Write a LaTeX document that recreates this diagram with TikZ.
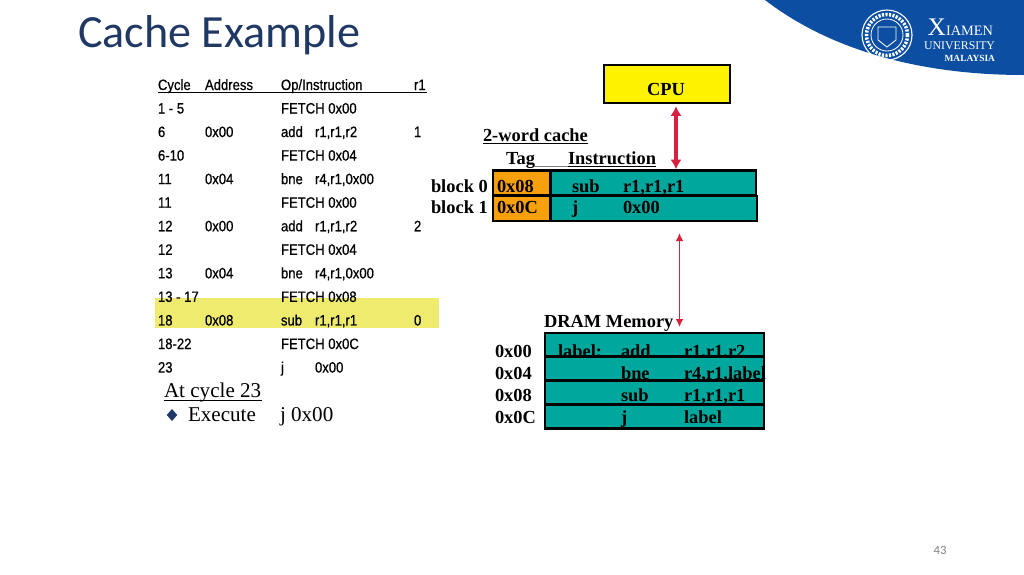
\documentclass[tikz,border=0pt]{standalone}
\usepackage{fontspec}
\usepackage{tikz}
\usetikzlibrary{shapes.geometric}
\usetikzlibrary{arrows.meta}
\setmainfont{Liberation Serif}
\newfontfamily\titlefont{Carlito}
\newfontfamily\tablefont[FakeStretch=0.87,FakeBold=0.6]{Liberation Sans}

\definecolor{titleblue}{HTML}{1F3864}
\definecolor{logoblue}{HTML}{0B4EA2}
\definecolor{cachegreen}{HTML}{00A79D}
\definecolor{tagorange}{HTML}{F7A00C}
\definecolor{arrowred}{HTML}{D9213F}
\definecolor{markyellow}{HTML}{EEEB6E}

\begin{document}
\begin{tikzpicture}[
                x=0.025cm,
                y=-0.025cm,
                every node/.style={inner sep=0pt, outer sep=0pt},
                tabletext/.style={anchor=base west, font=\tablefont\fontsize{10.7}{12}\selectfont},
                boldtext/.style={anchor=base west, font=\bfseries\fontsize{13.1}{15}\selectfont},
                notetext/.style={anchor=base west, font=\fontsize{15}{17}\selectfont},
                logotext/.style={anchor=base east, text=white},
                cpubox/.style={draw, line width=1.8pt, fill=yellow, minimum width=3.15cm, minimum height=0.95cm},
                tagbox/.style={draw, line width=1.8pt, fill=tagorange, minimum width=1.425cm, minimum height=0.63cm},
                instbox/.style={draw, line width=1.8pt, fill=cachegreen, minimum width=5.125cm, minimum height=0.63cm},
                membox/.style={draw, line width=1.8pt, fill=cachegreen, minimum width=5.475cm, minimum height=0.6cm}
            ]
            \useasboundingbox (0,0) rectangle (1024,574);

            % Logo corner
            \fill[logoblue] (765,0) .. controls (830,50) and (920,75) .. (1024,75) -- (1024,0) -- cycle;
            \draw[white, line width=0.8pt] (887,35) circle (25);
            \draw[white, line width=2.5pt, dash pattern=on 1.5pt off 1pt] (887,35) circle (20.5);
            \draw[white, line width=0.6pt] (887,35) circle (16);
            \draw[white, line width=0.6pt] (878,27) -- (896,27) -- (896,40) -- (887,47) -- (878,40) -- cycle;
            \node[logotext, font=\fontsize{10.2}{12}\selectfont] (logoa) at (993,35) {{\fontsize{18}{18}\selectfont X}IAMEN};
            \node[logotext, font=\fontsize{8.4}{10}\selectfont] (logob) at (995,49.5) {UNIVERSITY};
            \node[logotext, font=\bfseries\fontsize{6.7}{9}\selectfont] (logoc) at (995,61) {MALAYSIA};

            % Title and page number
            \node[anchor=base west, text=titleblue, font=\titlefont\fontsize{32.8}{36}\selectfont] (title) at (78,47) {Cache Example};
            \node[anchor=base, text=gray, font=\titlefont\fontsize{9}{11}\selectfont] (page) at (940,554) {43};

            % Highlighted row
            \node[fill=markyellow, minimum width=7.1cm, minimum height=0.75cm] (mark) at (297,313) {};

            % Trace table
            \node[tabletext] (hcycle) at (158,90) {Cycle};
            \node[tabletext] (haddr) at (205,90) {Address};
            \node[tabletext] (hop) at (281,90) {Op/Instruction};
            \node[tabletext] (hreg) at (414,90) {r1};
            \draw[line width=0.7pt] (158,92.5) -- (427,92.5);

            \foreach \cyc/\addr/\op/\args/\reg [count=\i] in {
                    1 - 5//FETCH 0x00//,
                    6/0x00/add/{r1,r1,r2}/1,
                    6-10//FETCH 0x04//,
                    11/0x04/bne/{r4,r1,0x00}/,
                    11//FETCH 0x00//,
                    12/0x00/add/{r1,r1,r2}/2,
                    12//FETCH 0x04//,
                    13/0x04/bne/{r4,r1,0x00}/,
                    13 - 17//FETCH 0x08//,
                    18/0x08/sub/{r1,r1,r1}/0,
                    18-22//FETCH 0x0C//,
                    23//j/0x00/
                } {
                    \pgfmathsetmacro{\rowy}{113.5+(\i-1)*23.55}
                    \node[tabletext] (cyc\i) at (158,\rowy) {\cyc};
                    \node[tabletext] (addr\i) at (205,\rowy) {\addr};
                    \node[tabletext] (op\i) at (281,\rowy) {\op};
                    \node[tabletext] (args\i) at (315,\rowy) {\args};
                    \node[tabletext] (reg\i) at (414,\rowy) {\reg};
                }

            % Note under the table
            \node[notetext] (note) at (164,397) {At cycle 23};
            \draw[line width=1.3pt] (164,400.5) -- (262,400.5);
            \node[diamond, fill=titleblue, minimum width=0.26cm, minimum height=0.3cm] (bullet) at (172,415) {};
            \node[notetext] (exec) at (188,421) {Execute};
            \node[notetext] (jump) at (280,421) {j 0x00};

            % CPU
            \node[cpubox] (cpu) at (667,84) {};
            \node[boldtext, anchor=base] (cputext) at (666,95) {CPU};

            % Cache
            \node[boldtext] (cachetitle) at (483,141) {\underline{2-word cache}};
            \node[boldtext] (taghead) at (506,164) {\underline{Tag}};
            \node[boldtext] (insthead) at (568,164) {\underline{Instruction}};
            \draw[gray, line width=0.4pt] (534,166.5) -- (568,166.5);

            \node[instbox] (inst0) at (653.5,183) {};
            \node[instbox, minimum width=5.15cm] (inst1) at (654,208.5) {};
            \node[tagbox] (tag0) at (521.5,183) {};
            \node[tagbox] (tag1) at (521.5,208.5) {};

            \node[boldtext] (block0) at (431,192) {block 0};
            \node[boldtext] (block1) at (431,213) {block 1};
            \node[boldtext] (tagval0) at (497,192) {0x08};
            \node[boldtext] (tagval1) at (497,213) {0x0C};
            \node[boldtext] (cop0) at (572,192) {sub};
            \node[boldtext] (carg0) at (623,192) {r1,r1,r1};
            \node[boldtext] (cop1) at (572,213) {j};
            \node[boldtext] (carg1) at (623,213) {0x00};

            % Memory
            \node[boldtext] (memtitle) at (544,327) {\underline{DRAM Memory}};
            \foreach \adr/\lbl/\op/\args [count=\i from 0] in {
                    0x00/label:/add/{r1,r1,r2},
                    0x04//bne/{r4,r1,label},
                    0x08//sub/{r1,r1,r1},
                    0x0C//j/label
                } {
                    \pgfmathsetmacro{\rowy}{345+\i*23.75}
                    \pgfmathsetmacro{\liney}{357+\i*22}
                    \node[membox] (mem\i) at (654.5,\rowy) {};
                    \node[boldtext] (adr\i) at (495,\liney) {\adr};
                    \node[boldtext] (lbl\i) at (558,\liney) {\lbl};
                    \node[boldtext] (mop\i) at (621,\liney) {\op};
                    \node[boldtext] (marg\i) at (684,\liney) {\args};
                }

            % Buses
            \coordinate (cpubus) at (676,0);
            \coordinate (membus) at (679.5,0);
            \draw[{Latex[length=0.24cm,width=0.28cm]}-{Latex[length=0.24cm,width=0.28cm]}, arrowred, line width=2.2pt, shorten <=0.08cm, shorten >=0.03cm] (cpu.south -| cpubus) -- (inst0.north -| cpubus);
            \draw[{Latex[length=0.2cm,width=0.2cm]}-{Latex[length=0.2cm,width=0.2cm]}, arrowred, line width=1.2pt, shorten <=0.3cm, shorten >=0.15cm] (inst1.south -| membus) -- (mem0.north -| membus);

        \end{tikzpicture}
\end{document}
